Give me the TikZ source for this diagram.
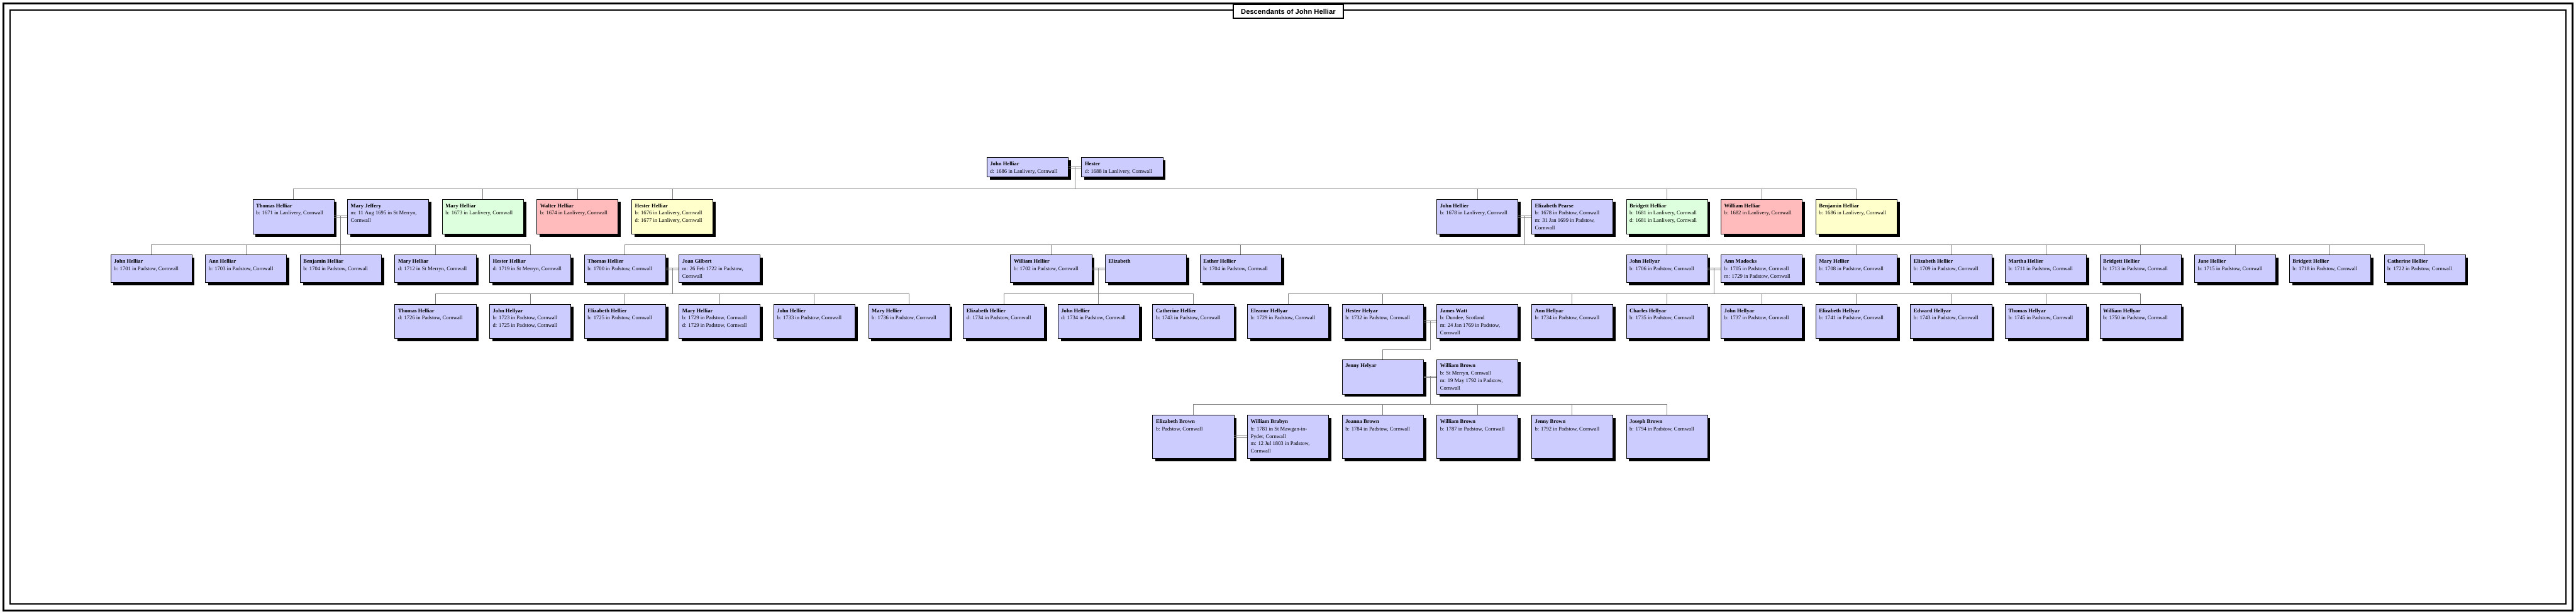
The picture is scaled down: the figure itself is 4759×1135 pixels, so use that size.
\documentclass[tikz,border=0pt]{standalone}
\usepackage{fontspec}
\setmainfont{Liberation Serif}
\newfontfamily\titlefont{Liberation Sans}
\usetikzlibrary{calc,shadows}
\definecolor{pblue}{RGB}{204,204,255}
\definecolor{pgreen}{RGB}{221,255,221}
\definecolor{ppink}{RGB}{255,187,187}
\definecolor{pyellow}{RGB}{255,255,204}
\definecolor{lgray}{RGB}{128,128,128}
\hbadness=10000 \vbadness=10000 \hfuzz=50pt
\tikzset{
  pbox/.style={draw=black, line width=1pt, fill=#1, anchor=north west, inner xsep=6pt, inner ysep=0pt,
    drop shadow={shadow xshift=5pt, shadow yshift=-5pt, opacity=1, fill=black}},
  conn/.style={draw=lgray, line width=1pt},
  frameline/.style={draw=black},
}
\newcommand\person[6]{\node[pbox=#5] (#1) at (#2,#3) {\parbox[c][#4pt][t]{138pt}{\fontsize{10}{13.7}\selectfont\raggedright\rule{0pt}{15pt}#6}};}
\newcommand\couple[3]{%
  \draw[conn] ([yshift=1.5pt]#1.east) -- ([yshift=1.5pt]#2.west);
  \draw[conn] ([yshift=-1.5pt]#1.east) -- ([yshift=-1.5pt]#2.west);
  \coordinate (#3) at ($(#1.east)!0.5!(#2.west)+(0,-1.5)$);}
\newcommand\kids[2]{\foreach \k in {#2} {\draw[conn] (\k.north) -- (\k.north |- #1);}}
\begin{document}
\begin{tikzpicture}[x=1pt,y=-1pt]
\useasboundingbox (0,0) rectangle (4759,1135);
% frame
\draw[frameline, line width=3pt] (6.5,6.5) rectangle (4752.5,1128.5);
\draw[frameline, line width=2.5pt] (18.5,18.5) rectangle (4740.5,1116.5);
\node[draw, line width=2.5pt, fill=white, minimum width=204pt, minimum height=26pt, inner sep=0pt] (title) at (2380,21) {\titlefont\bfseries\fontsize{13}{15}\selectfont Descendants of John Helliar};
% bar levels
\coordinate (y2) at (0,349);
\coordinate (y3) at (0,452);
\coordinate (y4) at (0,543);
\coordinate (y5) at (0,646);
\coordinate (y6) at (0,748);
% row 1
\person{r1john}{1822.75}{291}{36}{pblue}{\textbf{John Helliar}\\d: 1686 in Lanlivery, Cornwall}
\person{r1hester}{1997.75}{291}{36}{pblue}{\textbf{Hester}\\d: 1688 in Lanlivery, Cornwall}
% row 2
\person{r2thomas}{466.5}{368}{64}{pblue}{\textbf{Thomas Helliar}\\b: 1671 in Lanlivery, Cornwall}
\person{r2maryJ}{641.5}{368}{64}{pblue}{\textbf{Mary Jeffery}\\m: 11 Aug 1695 in St Merryn,\\Cornwall}
\person{r2maryH}{816.5}{368}{64}{pgreen}{\textbf{Mary Helliar}\\b: 1673 in Lanlivery, Cornwall}
\person{r2walter}{991.5}{368}{64}{ppink}{\textbf{Walter Helliar}\\b: 1674 in Lanlivery, Cornwall}
\person{r2hester}{1166.5}{368}{64}{pyellow}{\textbf{Hester Helliar}\\b: 1676 in Lanlivery, Cornwall\\d: 1677 in Lanlivery, Cornwall}
\person{r2john}{2654}{368}{64}{pblue}{\textbf{John Hellier}\\b: 1678 in Lanlivery, Cornwall}
\person{r2elizP}{2829}{368}{64}{pblue}{\textbf{Elizabeth Pearse}\\b: 1678 in Padstow, Cornwall\\m: 31 Jan 1699 in Padstow,\\Cornwall}
\person{r2bridgett}{3004}{368}{64}{pgreen}{\textbf{Bridgett Helliar}\\b: 1681 in Lanlivery, Cornwall\\d: 1681 in Lanlivery, Cornwall}
\person{r2william}{3179}{368}{64}{ppink}{\textbf{William Helliar}\\b: 1682 in Lanlivery, Cornwall}
\person{r2benjamin}{3354}{368}{64}{pyellow}{\textbf{Benjamin Helliar}\\b: 1686 in Lanlivery, Cornwall}
% row 3
\person{r3john}{204}{471}{51}{pblue}{\textbf{John Helliar}\\b: 1701 in Padstow, Cornwall}
\person{r3ann}{379}{471}{51}{pblue}{\textbf{Ann Helliar}\\b: 1703 in Padstow, Cornwall}
\person{r3benj}{554}{471}{51}{pblue}{\textbf{Benjamin Helliar}\\b: 1704 in Padstow, Cornwall}
\person{r3mary}{729}{471}{51}{pblue}{\textbf{Mary Helliar}\\d: 1712 in St Merryn, Cornwall}
\person{r3hester}{904}{471}{51}{pblue}{\textbf{Hester Helliar}\\d: 1719 in St Merryn, Cornwall}
\person{r3thomas}{1079}{471}{51}{pblue}{\textbf{Thomas Hellier}\\b: 1700 in Padstow, Cornwall}
\person{r3joan}{1254}{471}{51}{pblue}{\textbf{Joan Gilbert}\\m: 26 Feb 1722 in Padstow,\\Cornwall}
\person{r3william}{1866.5}{471}{51}{pblue}{\textbf{William Hellier}\\b: 1702 in Padstow, Cornwall}
\person{r3eliz}{2041.5}{471}{51}{pblue}{\textbf{Elizabeth}}
\person{r3esther}{2216.5}{471}{51}{pblue}{\textbf{Esther Hellier}\\b: 1704 in Padstow, Cornwall}
\person{r3johnh}{3004}{471}{51}{pblue}{\textbf{John Hellyar}\\b: 1706 in Padstow, Cornwall}
\person{r3annm}{3179}{471}{51}{pblue}{\textbf{Ann Madocks}\\b: 1705 in Padstow, Cornwall\\m: 1729 in Padstow, Cornwall}
\person{r3mary2}{3354}{471}{51}{pblue}{\textbf{Mary Hellier}\\b: 1708 in Padstow, Cornwall}
\person{r3eliz2}{3529}{471}{51}{pblue}{\textbf{Elizabeth Hellier}\\b: 1709 in Padstow, Cornwall}
\person{r3martha}{3704}{471}{51}{pblue}{\textbf{Martha Hellier}\\b: 1711 in Padstow, Cornwall}
\person{r3bridg}{3879}{471}{51}{pblue}{\textbf{Bridgett Hellier}\\b: 1713 in Padstow, Cornwall}
\person{r3jane}{4054}{471}{51}{pblue}{\textbf{Jane Hellier}\\b: 1715 in Padstow, Cornwall}
\person{r3bridg2}{4229}{471}{51}{pblue}{\textbf{Bridgett Hellier}\\b: 1718 in Padstow, Cornwall}
\person{r3cath}{4404}{471}{51}{pblue}{\textbf{Catherine Hellier}\\b: 1722 in Padstow, Cornwall}
% row 4
\person{r4thomas}{729}{562}{63}{pblue}{\textbf{Thomas Helliar}\\d: 1726 in Padstow, Cornwall}
\person{r4john}{904}{562}{63}{pblue}{\textbf{John Hellyar}\\b: 1723 in Padstow, Cornwall\\d: 1725 in Padstow, Cornwall}
\person{r4eliz}{1079}{562}{63}{pblue}{\textbf{Elizabeth Hellier}\\b: 1725 in Padstow, Cornwall}
\person{r4mary}{1254}{562}{63}{pblue}{\textbf{Mary Helliar}\\b: 1729 in Padstow, Cornwall\\d: 1729 in Padstow, Cornwall}
\person{r4john2}{1429}{562}{63}{pblue}{\textbf{John Hellier}\\b: 1733 in Padstow, Cornwall}
\person{r4mary2}{1604}{562}{63}{pblue}{\textbf{Mary Hellier}\\b: 1736 in Padstow, Cornwall}
\person{r4eliz2}{1779}{562}{63}{pblue}{\textbf{Elizabeth Hellier}\\d: 1734 in Padstow, Cornwall}
\person{r4john3}{1954}{562}{63}{pblue}{\textbf{John Hellier}\\d: 1734 in Padstow, Cornwall}
\person{r4cath}{2129}{562}{63}{pblue}{\textbf{Catherine Hellier}\\b: 1743 in Padstow, Cornwall}
\person{r4eleanor}{2304}{562}{63}{pblue}{\textbf{Eleanor Hellyar}\\b: 1729 in Padstow, Cornwall}
\person{r4hester}{2479}{562}{63}{pblue}{\textbf{Hester Helyar}\\b: 1732 in Padstow, Cornwall}
\person{r4james}{2654}{562}{63}{pblue}{\textbf{James Watt}\\b: Dundee, Scotland\\m: 24 Jan 1769 in Padstow,\\Cornwall}
\person{r4ann}{2829}{562}{63}{pblue}{\textbf{Ann Hellyar}\\b: 1734 in Padstow, Cornwall}
\person{r4charles}{3004}{562}{63}{pblue}{\textbf{Charles Hellyar}\\b: 1735 in Padstow, Cornwall}
\person{r4john4}{3179}{562}{63}{pblue}{\textbf{John Hellyar}\\b: 1737 in Padstow, Cornwall}
\person{r4eliz3}{3354}{562}{63}{pblue}{\textbf{Elizabeth Hellyar}\\b: 1741 in Padstow, Cornwall}
\person{r4edward}{3529}{562}{63}{pblue}{\textbf{Edward Hellyar}\\b: 1743 in Padstow, Cornwall}
\person{r4thomas2}{3704}{562}{63}{pblue}{\textbf{Thomas Hellyar}\\b: 1745 in Padstow, Cornwall}
\person{r4william}{3879}{562}{63}{pblue}{\textbf{William Hellyar}\\b: 1750 in Padstow, Cornwall}
% row 5
\person{r5jenny}{2479}{664}{64}{pblue}{\textbf{Jenny Helyar}}
\person{r5william}{2654}{664}{64}{pblue}{\textbf{William Brown}\\b: St Merryn, Cornwall\\m: 19 May 1792 in Padstow,\\Cornwall}
% row 6
\person{r6eliz}{2129}{767}{80}{pblue}{\textbf{Elizabeth Brown}\\b: Padstow, Cornwall}
\person{r6brabyn}{2304}{767}{80}{pblue}{\textbf{William Brabyn}\\b: 1781 in St Mawgan-in-\\Pyder, Cornwall\\m: 12 Jul 1803 in Padstow,\\Cornwall}
\person{r6joanna}{2479}{767}{80}{pblue}{\textbf{Joanna Brown}\\b: 1784 in Padstow, Cornwall}
\person{r6william}{2654}{767}{80}{pblue}{\textbf{William Brown}\\b: 1787 in Padstow, Cornwall}
\person{r6jenny}{2829}{767}{80}{pblue}{\textbf{Jenny Brown}\\b: 1792 in Padstow, Cornwall}
\person{r6joseph}{3004}{767}{80}{pblue}{\textbf{Joseph Brown}\\b: 1794 in Padstow, Cornwall}
% connectors: generation 1 -> 2
\couple{r1john}{r1hester}{m1}
\draw[conn] (m1) -- (m1 |- y2);
\draw[conn] (r2thomas.north |- y2) -- (r2benjamin.north |- y2);
\kids{y2}{r2thomas,r2maryH,r2walter,r2hester,r2john,r2bridgett,r2william,r2benjamin}
% generation 2 -> 3
\couple{r2thomas}{r2maryJ}{m2a}
\draw[conn] (m2a) -- (m2a |- y3);
\draw[conn] (r3john.north |- y3) -- (r3hester.north |- y3);
\kids{y3}{r3john,r3ann,r3benj,r3mary,r3hester}
\couple{r2john}{r2elizP}{m2b}
\draw[conn] (m2b) -- (m2b |- y3);
\draw[conn] (r3thomas.north |- y3) -- (r3cath.north |- y3);
\kids{y3}{r3thomas,r3william,r3esther,r3johnh,r3mary2,r3eliz2,r3martha,r3bridg,r3jane,r3bridg2,r3cath}
% generation 3 -> 4
\couple{r3thomas}{r3joan}{m3a}
\draw[conn] (m3a) -- (m3a |- y4);
\draw[conn] (r4thomas.north |- y4) -- (r4mary2.north |- y4);
\kids{y4}{r4thomas,r4john,r4eliz,r4mary,r4john2,r4mary2}
\couple{r3william}{r3eliz}{m3b}
\draw[conn] (m3b) -- (m3b |- y4);
\draw[conn] (r4eliz2.north |- y4) -- (r4cath.north |- y4);
\kids{y4}{r4eliz2,r4john3,r4cath}
\couple{r3johnh}{r3annm}{m3c}
\draw[conn] (m3c) -- (m3c |- y4);
\draw[conn] (r4eleanor.north |- y4) -- (r4william.north |- y4);
\kids{y4}{r4eleanor,r4hester,r4ann,r4charles,r4john4,r4eliz3,r4edward,r4thomas2,r4william}
% generation 4 -> 5
\couple{r4hester}{r4james}{m4}
\draw[conn] (m4) -- (m4 |- y5) -- (r5jenny.north |- y5) -- (r5jenny.north);
% generation 5 -> 6
\couple{r5jenny}{r5william}{m5}
\draw[conn] (m5) -- (m5 |- y6);
\draw[conn] (r6eliz.north |- y6) -- (r6joseph.north |- y6);
\kids{y6}{r6eliz,r6joanna,r6william,r6jenny,r6joseph}
\couple{r6eliz}{r6brabyn}{m6}
\end{tikzpicture}
\end{document}
